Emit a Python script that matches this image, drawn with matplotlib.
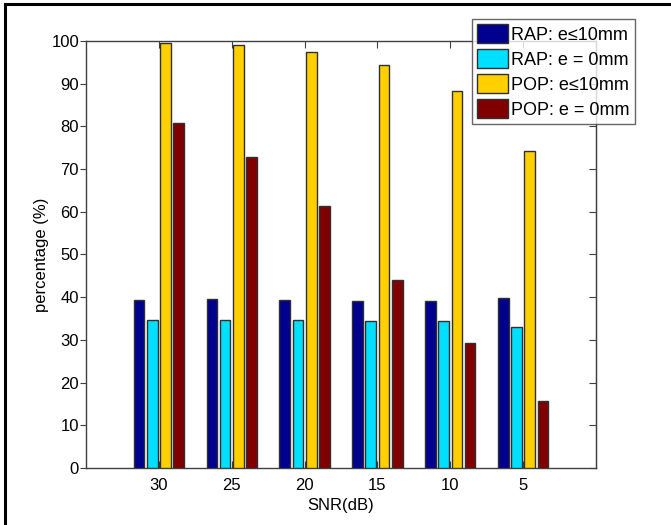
import numpy as np
import matplotlib
matplotlib.use('Agg')
import matplotlib.pyplot as plt
from matplotlib.lines import Line2D

snr_labels = ['30', '25', '20', '15', '10', '5']
rap_10mm = [39.3, 39.5, 39.3, 39.2, 39.2, 39.9]
rap_0mm = [34.6, 34.6, 34.6, 34.4, 34.4, 33.0]
pop_10mm = [99.5, 99.0, 97.4, 94.4, 88.3, 74.3]
pop_0mm = [80.7, 72.8, 61.4, 44.0, 29.3, 15.8]

series = [rap_10mm, rap_0mm, pop_10mm, pop_0mm]
names = ['RAP: e\u226410mm', 'RAP: e = 0mm', 'POP: e\u226410mm', 'POP: e = 0mm']
colors = ['#00008F', '#00DFFF', '#FFCF00', '#800000']

plt.rcParams['font.family'] = ['Liberation Sans', 'DejaVu Sans']

fig = plt.figure(figsize=(6.71, 5.25), dpi=100)
ax = fig.add_axes([86 / 671, 57 / 525, 510 / 671, 427 / 525])

x = np.arange(1, len(snr_labels) + 1)
step = 0.182
width = step * 0.8
for i, (vals, name, c) in enumerate(zip(series, names, colors)):
    ax.bar(x + (i - 1.5) * step, vals, width, color=c, edgecolor='#303030',
           linewidth=1.0, label=name, zorder=3)

ax.set_xlim(0, 7)
ax.set_ylim(0, 100)
ax.set_xticks(x)
ax.set_xticklabels(snr_labels)
ax.set_yticks(np.arange(0, 101, 10))

for s in ax.spines.values():
    s.set_color('#404040')
    s.set_linewidth(1.0)
ax.tick_params(axis='x', direction='in', top=True, length=5, color='#404040',
               labelsize=12, pad=7)
ax.tick_params(axis='y', direction='out', length=4, color='#404040',
               labelsize=12, pad=1)
sec = ax.secondary_yaxis('right')
sec.set_yticks(np.arange(0, 101, 10))
sec.tick_params(direction='in', length=5, color='#404040', labelright=False)
sec.spines['right'].set_color('#404040')

ax.set_xlabel('SNR(dB)', fontsize=12, labelpad=4)
ax.set_ylabel('percentage (%)', fontsize=12, labelpad=2)

leg = ax.legend(loc='upper right', bbox_to_anchor=(1.076, 1.052),
                fontsize=13, frameon=True, fancybox=False, borderpad=0.3,
                handlelength=1.7, handleheight=1.25, handletextpad=0.15,
                labelspacing=0.3, borderaxespad=0)
leg.get_frame().set_edgecolor('#404040')
leg.get_frame().set_linewidth(1.0)

# outer frame lines (top and left)
fig.add_artist(Line2D([5 / 671, 1], [1 - 4 / 525, 1 - 4 / 525],
                      color='black', linewidth=2.2, transform=fig.transFigure))
fig.add_artist(Line2D([5 / 671, 5 / 671], [0, 1 - 4 / 525],
                      color='black', linewidth=2.2, transform=fig.transFigure))

fig.savefig('out.png', dpi=100)
